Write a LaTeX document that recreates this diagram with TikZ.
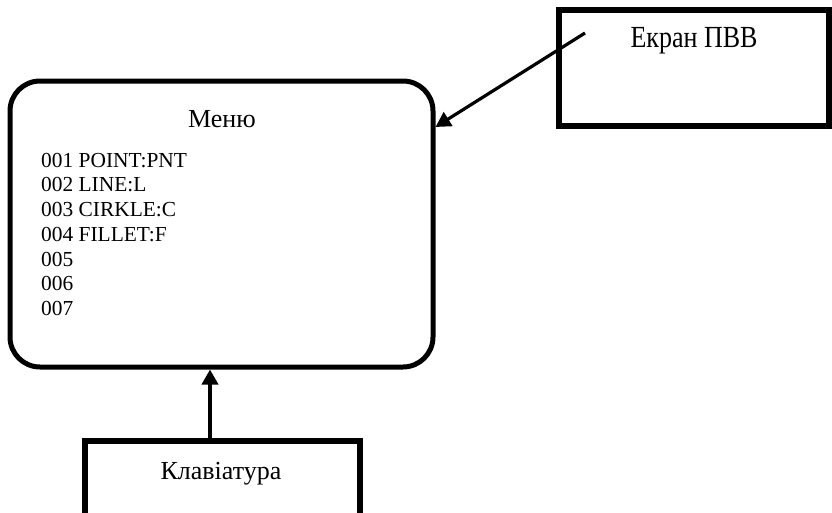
\documentclass[tikz,border=0pt]{standalone}
\usepackage{fontspec}
\setmainfont{Liberation Serif}
\usetikzlibrary{arrows.meta}
\begin{document}
\begin{tikzpicture}[x=1pt,y=-1pt,
  framebox/.style={draw=black, line width=6pt, inner sep=0pt},
  menubox/.style={draw=black, line width=5pt, rounded corners=30pt, inner sep=0pt},
  lbl/.style={font=\fontsize{26}{30}\selectfont, anchor=base, inner sep=0pt},
  item/.style={font=\fontsize{21.4}{25}\selectfont, anchor=base west, inner sep=0pt},
  link/.style={-{Triangle[length=15pt,width=16pt]}, line width=#1},
  link/.default=3.2pt]
\useasboundingbox (0,0) rectangle (832,512);
\clip (0,0) rectangle (832,512);

% menu screen
\node[menubox, minimum width=423pt, minimum height=286pt] (menu) at (221.5,224) {};
\node[lbl] (menutitle) at (222,127) {Меню};
\foreach \t [count=\i] in {001 POINT:PNT, 002 LINE:L, 003 CIRKLE:C, 004 FILLET:F, 005, 006, 007}
  \node[item] (item\i) at (41,{167+24.75*(\i-1)}) {\t};

% display device
\node[framebox, minimum width=270pt, minimum height=116pt] (scr) at (694,68) {};
\node[lbl] (scrtext) at (694,47) {\scalebox{1}[1.18]{Екран ПВВ}};

% keyboard
\node[framebox, minimum width=275pt, minimum height=110pt] (kbd) at (222.5,496) {};
\node[lbl] (kbdtext) at (221,479) {Клавіатура};

% connectors
\coordinate (scrtail) at (585,33);
\draw[link] (scrtail) -- ([yshift=97pt]menu.east);
\coordinate (kbdtail) at ([xshift=-12.5pt]kbd.north);
\draw[link=4.5pt] (kbdtail) -- (kbdtail |- menu.south);
\end{tikzpicture}
\end{document}
